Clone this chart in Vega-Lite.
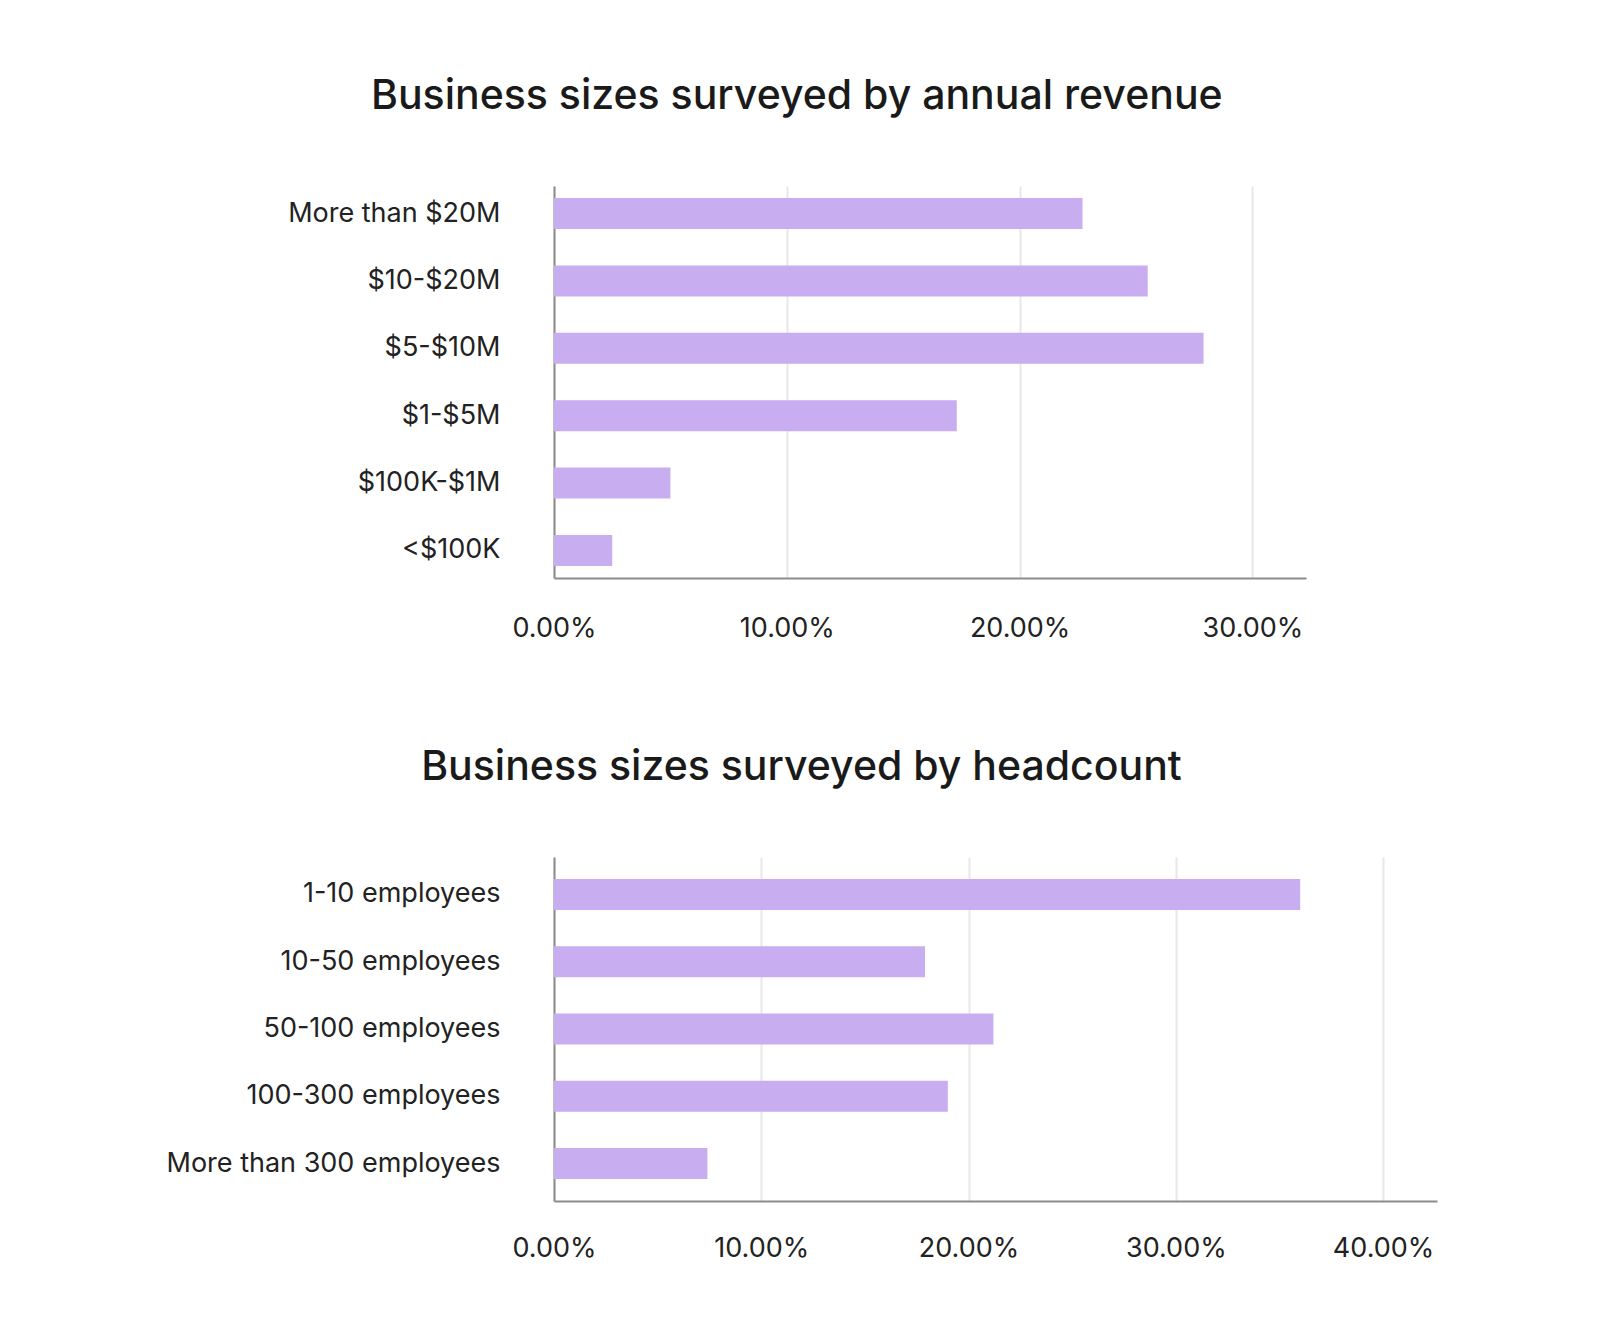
{
  "$schema": "https://vega.github.io/schema/vega-lite/v6.json",
  "padding": {"left": 166, "top": 76, "right": 10, "bottom": 10},
  "spacing": 106,
  "config": {
    "view": {"stroke": null},
    "font": "Inter",
    "axis": {
      "labelFont": "Inter",
      "labelFontSize": 27,
      "labelColor": "#222222",
      "labelLimit": 0,
      "labelFlush": false,
      "labelOverlap": false,
      "domainColor": "#8c8c8c",
      "domainWidth": 2,
      "gridColor": "#e8e8e8",
      "gridWidth": 2,
      "ticks": false,
      "tickSize": 0,
      "title": null
    },
    "title": {
      "font": "Inter",
      "fontSize": 41,
      "fontWeight": 500,
      "color": "#1a1a1a",
      "anchor": "middle",
      "frame": "bounds",
      "baseline": "bottom",
      "offset": 68
    },
    "bar": {"color": "#c8adf0"}
  },
  "vconcat": [
    {
      "title": "Business sizes surveyed by annual revenue",
      "width": 752,
      "height": 392,
      "data": {
        "values": [
          {"category": "More than $20M", "share": 0.227},
          {"category": "$10-$20M", "share": 0.255},
          {"category": "$5-$10M", "share": 0.279},
          {"category": "$1-$5M", "share": 0.173},
          {"category": "$100K-$1M", "share": 0.050},
          {"category": "<$100K", "share": 0.025}
        ]
      },
      "mark": {"type": "bar"},
      "encoding": {
        "y": {
          "field": "category",
          "type": "nominal",
          "sort": null,
          "scale": {"paddingInner": 0.54, "paddingOuter": 0.18},
          "axis": {"grid": false, "labelPadding": 54}
        },
        "x": {
          "field": "share",
          "type": "quantitative",
          "scale": {"domain": [0, 0.323], "nice": false},
          "axis": {"values": [0, 0.1, 0.2, 0.3], "format": ".2%", "grid": true, "labelPadding": 50, "labelBaseline": "middle"}
        }
      }
    },
    {
      "title": "Business sizes surveyed by headcount",
      "width": 883,
      "height": 344,
      "data": {
        "values": [
          {"category": "1-10 employees", "share": 0.360},
          {"category": "10-50 employees", "share": 0.179},
          {"category": "50-100 employees", "share": 0.212},
          {"category": "100-300 employees", "share": 0.190},
          {"category": "More than 300 employees", "share": 0.074}
        ]
      },
      "mark": {"type": "bar"},
      "encoding": {
        "y": {
          "field": "category",
          "type": "nominal",
          "sort": null,
          "scale": {"paddingInner": 0.54, "paddingOuter": 0.326},
          "axis": {"grid": false, "labelPadding": 54}
        },
        "x": {
          "field": "share",
          "type": "quantitative",
          "scale": {"domain": [0, 0.426], "nice": false},
          "axis": {"values": [0, 0.1, 0.2, 0.3, 0.4], "format": ".2%", "grid": true, "labelPadding": 47, "labelBaseline": "middle"}
        }
      }
    }
  ]
}
